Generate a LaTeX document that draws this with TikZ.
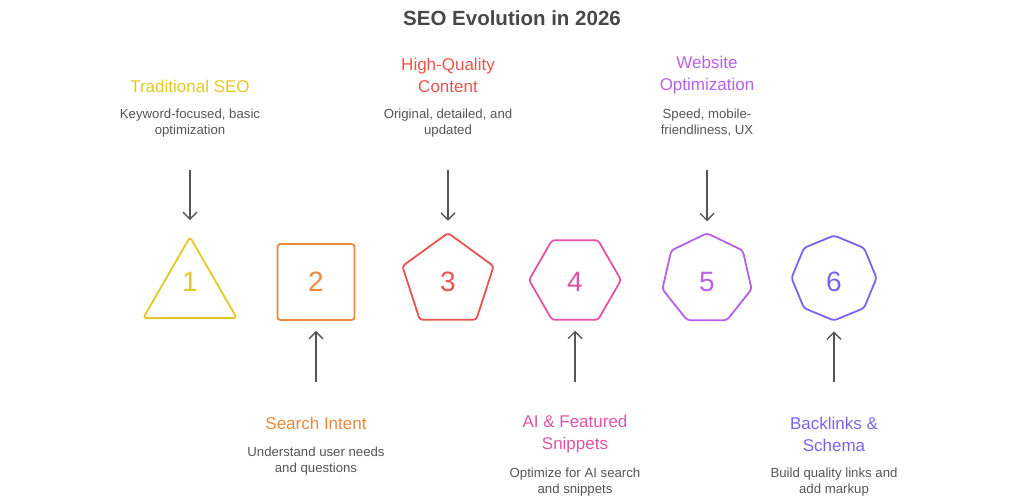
\documentclass[tikz,border=0pt]{standalone}
\usepackage{fontspec}
\setmainfont{Liberation Sans}
\usetikzlibrary{arrows.meta, positioning, shapes.geometric}
\definecolor{seoYellow}{RGB}{226, 200, 38}
\definecolor{seoOrange}{RGB}{234, 137, 58}
\definecolor{seoRed}{RGB}{232, 84, 76}
\definecolor{seoPink}{RGB}{224, 84, 166}
\definecolor{seoPurple}{RGB}{184, 96, 234}
\definecolor{seoViolet}{RGB}{124, 98, 238}
\definecolor{seoGray}{RGB}{85, 85, 85}
\definecolor{seoDark}{RGB}{72, 72, 72}

\begin{document}
\begin{tikzpicture}[x=1pt, y=-1pt,
    shapebox/.style={draw, line width=1.8pt, rounded corners=3pt, inner sep=0pt},
    num/.style={font=\fontsize{28}{32}\selectfont},
    head/.style={font=\fontsize{17}{22}\selectfont, align=center, inner sep=0pt},
    desc/.style={font=\fontsize{13.2}{16}\selectfont, align=center, text=seoGray, inner sep=0pt},
    link/.style={-{Straight Barb[length=7pt, width=14pt]}, line width=1.4pt, draw=seoGray, shorten >=11pt}]
    \useasboundingbox (0,0) rectangle (1024,498);
    \node[font=\bfseries\fontsize{20.5}{24}\selectfont, text=seoDark] (title) at (512,18) {SEO Evolution in 2026};
    % shapes
    \node[
        shapebox,
        regular polygon,
        regular polygon sides=3,
        draw=seoYellow,
        minimum size=108pt
    ] (s1) at (190,291) {};
    \node[
        shapebox,
        rectangle,
        draw=seoOrange,
        minimum width=77pt,
        minimum height=76pt
    ] (s2) at (316,282) {};
    \node[
        shapebox,
        regular polygon,
        regular polygon sides=5,
        draw=seoRed,
        minimum size=96pt
    ] (s3) at (448,281) {};
    \node[
        shapebox,
        regular polygon,
        regular polygon sides=6,
        draw=seoPink,
        minimum size=92pt
    ] (s4) at (575,280) {};
    \node[
        shapebox,
        regular polygon,
        regular polygon sides=7,
        draw=seoPurple,
        minimum size=91.5pt
    ] (s5) at (707,279) {};
    \node[
        shapebox,
        regular polygon,
        regular polygon sides=8,
        shape border rotate=22.5,
        draw=seoViolet,
        minimum size=85pt
    ] (s6) at (834,278) {};
    % numbers
    \node[num, text=seoYellow] (n1) at (190,282) {1};
    \node[num, text=seoOrange] (n2) at (316,282) {2};
    \node[num, text=seoRed] (n3) at (448,282) {3};
    \node[num, text=seoPink] (n4) at (575,282) {4};
    \node[num, text=seoPurple] (n5) at (707,282) {5};
    \node[num, text=seoViolet] (n6) at (834,282) {6};
    % upper labels
    \node[head, text=seoYellow] (h1) at (190,86) {Traditional SEO};
    \node[desc] (d1) at (190,123) {Keyword-focused, basic\\optimization};
    \node[head, text=seoRed] (h3) at (448,75) {High-Quality\\Content};
    \node[desc] (d3) at (448,123) {Original, detailed, and\\updated};
    \node[head, text=seoPurple] (h5) at (707,75) {Website\\Optimization};
    \node[desc] (d5) at (707,123) {Speed, mobile-\\friendliness, UX};
    % lower labels
    \node[head, text=seoOrange] (h2) at (316,423) {Search Intent};
    \node[desc] (d2) at (316,461) {Understand user needs\\and questions};
    \node[head, text=seoPink] (h4) at (575,434) {AI \& Featured\\Snippets};
    \node[desc] (d4) at (575,482) {Optimize for AI search\\and snippets};
    \node[head, text=seoViolet] (h6) at (834,434) {Backlinks \&\\Schema};
    \node[desc] (d6) at (834,482) {Build quality links and\\add markup};
    % arrows
    \coordinate (a1) at (190,170);
    \coordinate (a3) at (448,170);
    \coordinate (a5) at (707,170);
    \coordinate (a2) at (316,382);
    \coordinate (a4) at (575,382);
    \coordinate (a6) at (834,382);
    \draw[link, shorten >=15pt] (a1) -- (s1.corner 1);
    \draw[link] (a3) -- (s3.corner 1);
    \draw[link] (a5) -- (s5.corner 1);
    \draw[link, shorten >=10pt] (a2) -- (s2.south);
    \draw[link, shorten >=10pt] (a4) -- (s4.south);
    \draw[link, shorten >=10pt] (a6) -- (s6.south);
\end{tikzpicture}
\end{document}
